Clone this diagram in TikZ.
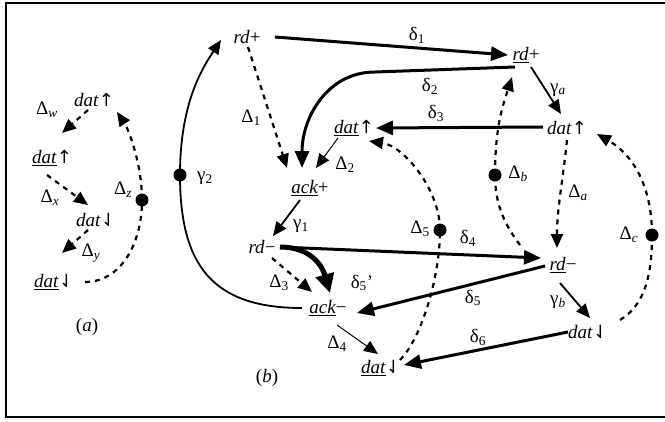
\documentclass[tikz,border=0pt]{standalone}
\usepackage{fontspec}
\setmainfont{Liberation Serif}
\newfontfamily\arrf{DejaVu Sans}[Scale=0.95]
\usetikzlibrary{arrows.meta}
\newcommand\und[1]{\underline{\textit{#1}}}
\newcommand\upar{{\arrf ↑}}
\newcommand\dnar{{\arrf ⇃}}
\newcommand\mns{−}
\begin{document}
\begin{tikzpicture}[x=1pt,y=-1pt,
  every node/.style={font=\fontsize{19}{21}\selectfont, inner sep=1pt},
  bigtip/.tip={Triangle[length=17pt,width=14pt]},
  midtip/.tip={Triangle[length=14pt,width=12pt]},
  hugetip/.tip={Triangle[length=19pt,width=18pt]},
  dl/.style={line width=3pt,-bigtip},
  gl/.style={line width=1.8pt,-midtip},
  ds/.style={line width=2.2pt,dash pattern=on 5pt off 5pt,-midtip},
  dsn/.style={line width=2.2pt,dash pattern=on 5pt off 5pt},
  tn/.style={line width=1pt,-midtip},
  bdot/.style={circle,fill=black,inner sep=0pt,minimum size=13pt}]
\useasboundingbox (0,0) rectangle (665,421);
\draw[line width=2pt] (670,3) -- (6,3) -- (6,417) -- (670,417);
% ---------- panel (a)
\node (a1) at (94,100) {\textit{dat}\upar};
\node (a2) at (52,158) {\und{dat}\upar};
\node (a3) at (96,220) {\textit{dat}\dnar};
\node (a4) at (54,282) {\und{dat}\dnar};
\node (dz) at (142,200) [bdot] {};
\node (lw) at (47,110) {Δ\textsubscript{\textit{w}}};
\node (lx) at (50,198) {Δ\textsubscript{\textit{x}}};
\node (ly) at (91,253) {Δ\textsubscript{\textit{y}}};
\node (lz) at (123,190) {Δ\textsubscript{\textit{z}}};
\node (la) at (87,327) {(\textit{a})};
\draw[ds] ([shift={(-6,10)}]a1.center) -- ([shift={(10,-25)}]a2.center);
\draw[ds] ([shift={(-5,17)}]a2.center) -- ([shift={(-8,-15)}]a3.center);
\draw[ds] ([shift={(-8,10)}]a3.center) -- ([shift={(8,-29)}]a4.center);
\draw[dsn] ([shift={(31,0)}]a4.center) .. controls +(35,0) and +(0,45) .. (dz.center);
\draw[ds] (dz.center) .. controls +(0,-35) and +(12,18) .. ([shift={(23,12)}]a1.center);
% ---------- panel (b) nodes
\node (rdp1) at (247,37) {\textit{rd}+};
\node (rdp2) at (526,55) {\und{rd}+};
\node (datu1) at (567,128) {\textit{dat}\upar};
\node (datu2) at (354,128) {\und{dat}\upar};
\node (ackp) at (310,188) {\und{ack}+};
\node (rdm1) at (262,247) {\textit{rd}\mns};
\node (rdm2) at (563,265) {\und{rd}\mns};
\node (ackm) at (328,308) {\und{ack}\mns};
\node (datd1) at (588,332) {\textit{dat}\dnar};
\node (datd2) at (381,368) {\und{dat}\dnar};
\node (g2dot) at (180,175) [bdot] {};
\node (d5dot) at (440,230) [bdot] {};
\node (dbdot) at (495,175) [bdot] {};
\node (dcdot) at (652,235) [bdot] {};
\coordinate (d2bend) at (375,72);
\node (lb) at (267,378) {(\textit{b})};
% labels
\node at (417,35) {δ\textsubscript{1}};
\node at (430,86) {δ\textsubscript{2}};
\node at (436,113) {δ\textsubscript{3}};
\node at (468,238) {δ\textsubscript{4}};
\node at (473,298) {δ\textsubscript{5}};
\node at (478,337) {δ\textsubscript{6}};
\node at (362,283) {δ\textsubscript{5}’};
\node at (301,226) {γ\textsubscript{1}};
\node at (205,178) {γ\textsubscript{2}};
\node at (558,90) {γ\textsubscript{\textit{a}}};
\node at (558,302) {γ\textsubscript{\textit{b}}};
\node at (251,118) {Δ\textsubscript{1}};
\node at (345,165) {Δ\textsubscript{2}};
\node at (279,283) {Δ\textsubscript{3}};
\node at (337,344) {Δ\textsubscript{4}};
\node at (420,229) {Δ\textsubscript{5}};
\node at (578,193) {Δ\textsubscript{\textit{a}}};
\node at (518,174) {Δ\textsubscript{\textit{b}}};
\node at (629,235) {Δ\textsubscript{\textit{c}}};
% delta edges
\draw[dl] ([shift={(28,0)}]rdp1.center) -- ([shift={(-18,0)}]rdp2.center);
\draw[dl] ([shift={(-11,12)}]rdp2.center) -- (d2bend) .. controls +(-48,0) and +(0,-50) .. ([shift={(-8,-20)}]ackp.center);
\draw[dl] ([shift={(-24,-1)}]datu1.center) -- ([shift={(22,0)}]datu2.center);
\draw[dl] ([shift={(18,0)}]rdm1.center) -- ([shift={(-22,-7)}]rdm2.center);
\draw[dl] ([shift={(-18,1)}]rdm2.center) -- ([shift={(29,5)}]ackm.center);
\draw[dl] ([shift={(-20,0)}]datd1.center) -- ([shift={(23,-3)}]datd2.center);
\draw[line width=5pt,-hugetip] ([shift={(18,0)}]rdm1.center) .. controls +(30,0) and +(-8,-28) .. ([shift={(2,-15)}]ackm.center);
% gamma edges
\draw[gl] ([shift={(-10,12)}]ackp.center) -- ([shift={(11,-11)}]rdm1.center);
\draw[line width=1.8pt] ([shift={(-26,0)}]ackm.center) .. controls +(-90,0) and +(0,90) .. (g2dot.center);
\draw[gl] (g2dot.center) .. controls +(0,-70) and +(-20,30) .. ([shift={(-26,3)}]rdp1.center);
\draw[gl] ([shift={(5,12)}]rdp2.center) -- ([shift={(-6,-14)}]datu1.center);
\draw[gl] ([shift={(-3,18)}]rdm2.center) -- ([shift={(2,-14)}]datd1.center);
% Delta edges
\draw[ds] ([shift={(1,10)}]rdp1.center) -- ([shift={(-23,-20)}]ackp.center);
\draw[tn] ([shift={(-16,10)}]datu2.center) -- ([shift={(6,-20)}]ackp.center);
\draw[ds] ([shift={(10,11)}]rdm1.center) -- ([shift={(-16,-16)}]ackm.center);
\draw[tn] ([shift={(9,17)}]ackm.center) -- ([shift={(-3,-14)}]datd2.center);
\draw[dsn] ([shift={(19,-8)}]datd2.center) .. controls +(20,-20) and +(0,50) .. (d5dot.center);
\draw[ds] (d5dot.center) .. controls +(0,-40) and +(35,5) .. ([shift={(15,13)}]datu2.center);
\draw[ds] ([shift={(0,12)}]datu1.center) .. controls +(-4,40) and +(0,-40) .. ([shift={(-6,-17)}]rdm2.center);
\draw[dsn] ([shift={(-43,-20)}]rdm2.center) .. controls +(-15,-20) and +(0,30) .. (dbdot.center);
\draw[ds] (dbdot.center) .. controls +(0,-50) and +(-8,25) .. ([shift={(-14,22)}]rdp2.center);
\draw[dsn] ([shift={(32,-12)}]datd1.center) .. controls +(25,-15) and +(0,40) .. (dcdot.center);
\draw[ds] (dcdot.center) .. controls +(0,-50) and +(35,20) .. ([shift={(30,6)}]datu1.center);
\end{tikzpicture}
\end{document}
